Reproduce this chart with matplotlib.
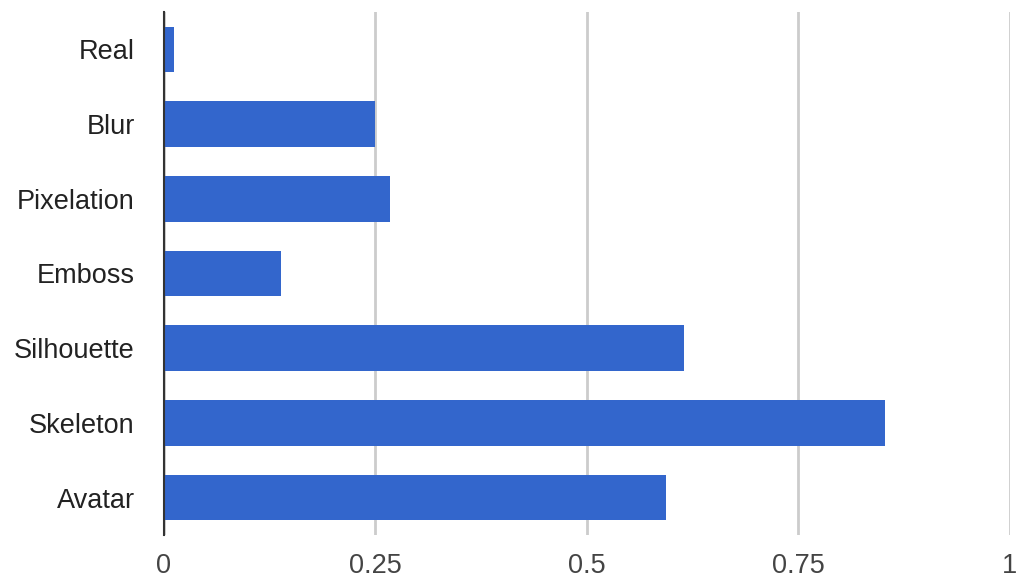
import numpy as np
import matplotlib.pyplot as plt

# values
categories = ['Real', 'Blur', 'Pixelation', 'Emboss', 'Silhouette', 'Skeleton', 'Avatar']
values = [0.012, 0.250, 0.267, 0.139, 0.615, 0.853, 0.594]
ticks = [0, 0.25, 0.5, 0.75, 1]
tick_labels = ['0', '0.25', '0.5', '0.75', '1']

plt.rcParams['font.family'] = ['Liberation Sans', 'DejaVu Sans']

fig = plt.figure(figsize=(10.24, 5.87), dpi=100)
ax = fig.add_axes([0.160, 0.0886, 0.826, 0.891])

y = np.arange(len(categories))
ax.barh(y, values, height=0.61, color='#3366cc', zorder=3)

ax.set_ylim(len(categories) - 0.5, -0.5)
ax.set_xlim(0, 1)
ax.set_yticks(y)
ax.set_yticklabels(categories, fontsize=19.5, color='#222222')
ax.set_xticks(ticks)
ax.set_xticklabels(tick_labels, fontsize=19.5, color='#444444')
ax.tick_params(axis='both', length=0)
ax.tick_params(axis='y', pad=21)
ax.tick_params(axis='x', pad=13)

ax.grid(axis='x', color='#cccccc', linewidth=2, zorder=0)
for s in ['top', 'right', 'bottom']:
    ax.spines[s].set_visible(False)
ax.spines['left'].set_color('#333333')
ax.spines['left'].set_linewidth(1.5)
ax.spines['left'].set_zorder(4)

fig.savefig('out.png', dpi=100)
